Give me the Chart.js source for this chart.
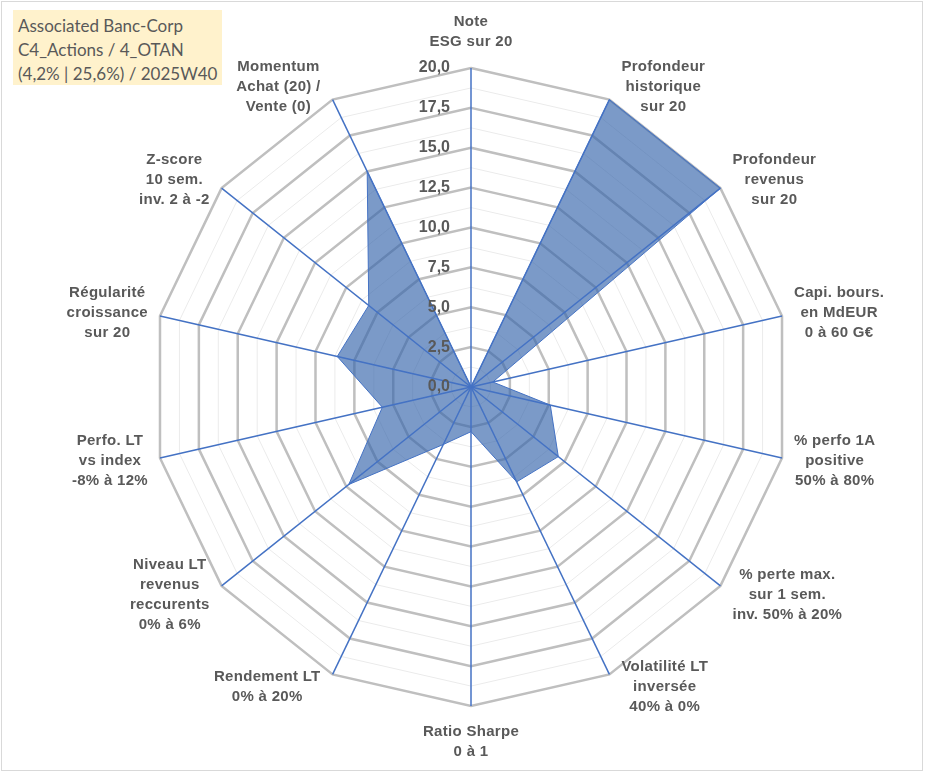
<!DOCTYPE html>
<html>
<head>
<meta charset="utf-8">
<script src="https://cdn.jsdelivr.net/npm/chart.js@4.4.1/dist/chart.umd.min.js"></script>
<style>
  body { margin: 0; background: #fff; }
  #wrap { position: relative; width: 933px; height: 776px; }
  #frame { position: absolute; left: 1px; top: 1px; width: 920px; height: 768px; border: 1px solid #d9d9d9; pointer-events: none; }
  #note { position: absolute; left: 13px; top: 10px; width: 204px; height: 71px; padding: 4px 0 0 5px;
          background: #fff2cc; color: #595959; font: 17px Lato, "Open Sans", sans-serif; line-height: 24px; }
</style>
</head>
<body>
<div id="wrap">
  <canvas id="radar"></canvas>
  <div id="frame"></div>
  <div id="note">Associated Banc-Corp<br>C4_Actions / 4_OTAN<br>(4,2% | 25,6%) / 2025W40</div>
</div>
<script>
const axes = [
  ['Note', 'ESG sur 20'],
  ['Profondeur', 'historique', 'sur 20'],
  ['Profondeur', 'revenus', 'sur 20'],
  ['Capi. bours.', 'en MdEUR', '0 à 60 G€'],
  ['% perfo 1A', 'positive', '50% à 80%'],
  ['% perte max.', 'sur 1 sem.', 'inv. 50% à 20%'],
  ['Volatilité LT', 'inversée', '40% à 0%'],
  ['Ratio Sharpe', '0 à 1'],
  ['Rendement LT', '0% à 20%'],
  ['Niveau LT', 'revenus', 'reccurents', '0% à 6%'],
  ['Perfo. LT', 'vs index', '-8% à 12%'],
  ['Régularité', 'croissance', 'sur 20'],
  ['Z-score', '10 sem.', 'inv. 2 à -2'],
  ['Momentum', 'Achat (20) /', 'Vente (0)']
];
const scores = [0, 20, 20, 1.4, 5.1, 7.0, 6.6, 2.8, 4.0, 9.8, 5.7, 8.6, 8.2, 15];
const tickValues = [0, 2.5, 5, 7.5, 10, 12.5, 15, 17.5, 20];
const tickLabels = ['0,0', '2,5', '5,0', '7,5', '10,0', '12,5', '15,0', '17,5', '20,0'];

const labelFont = 'bold 15px "Liberation Sans", Arial, sans-serif';

// rayons bleus au-dessus de la surface + graduations à gauche de l'axe vertical
const overlay = {
  id: 'overlay',
  afterDatasetsDraw(chart) {
    const s = chart.scales.r;
    const c = chart.ctx;
    c.save();
    c.strokeStyle = '#4472c4';
    c.lineWidth = 1.5;
    for (let i = 0; i < axes.length; i++) {
      const p = s.getPointPositionForValue(i, s.max);
      c.beginPath();
      c.moveTo(s.xCenter, s.yCenter);
      c.lineTo(p.x, p.y);
      c.stroke();
    }
    c.fillStyle = '#595959';
    c.font = 'bold 16px "Liberation Sans", Arial, sans-serif';
    c.textAlign = 'right';
    c.textBaseline = 'middle';
    tickValues.forEach((v, i) => {
      c.fillText(tickLabels[i], s.xCenter - 21, s.yCenter - s.getDistanceFromCenterForValue(v));
    });
    c.restore();
  },
  afterDraw(chart) {
    // libellés centrés à côté de chaque sommet, façon Excel
    const s = chart.scales.r;
    const c = chart.ctx;
    const n = axes.length;
    const lh = 20;
    c.save();
    c.fillStyle = '#595959';
    c.font = labelFont;
    c.letterSpacing = '0.3px';
    c.textAlign = 'center';
    c.textBaseline = 'middle';
    axes.forEach((lines, i) => {
      const v = s.getPointPosition(i, s.drawingArea);
      const a = i * 2 * Math.PI / n;
      const sin = Math.sin(a), cos = Math.cos(a);
      const h = lines.length * lh;
      let x, y;
      if (Math.abs(sin) < 0.01) {
        x = v.x;
        y = v.y - Math.sign(cos) * (16 + h / 2);
      } else {
        const w = Math.max(...lines.map(t => c.measureText(t).width));
        x = v.x + Math.sign(sin) * (12 + w / 2);
        y = v.y - cos * 14;
      }
      lines.forEach((t, k) => {
        c.fillText(t, x, y + (k - (lines.length - 1) / 2) * lh);
      });
    });
    c.restore();
  }
};

new Chart(document.getElementById('radar'), {
  type: 'radar',
  data: {
    labels: axes,
    datasets: [{
      data: scores,
      backgroundColor: 'rgba(52, 100, 170, 0.65)',
      borderColor: '#4472c4',
      borderWidth: 1,
      pointRadius: 0,
      fill: true
    }]
  },
  options: {
    responsive: true,
    maintainAspectRatio: false,
    animation: false,
    layout: { padding: { top: 23, bottom: 23, left: 10, right: 0 } },
    plugins: { legend: { display: false }, tooltip: { enabled: false } },
    scales: {
      r: {
        min: 0,
        max: 20,
        ticks: { stepSize: 1.25, display: false },
        grid: {
          circular: false,
          color: ctx => (ctx.tick.value % 2.5 === 0 ? '#bfbfbf' : '#ebebeb'),
          lineWidth: ctx => (ctx.tick.value % 2.5 === 0 ? 2.5 : 1)
        },
        angleLines: { display: false },
        pointLabels: {
          color: 'rgba(0,0,0,0)',
          padding: 6,
          font: { family: '"Liberation Sans", Arial, sans-serif', size: 15, weight: 'bold', lineHeight: 1.333 }
        }
      }
    }
  },
  plugins: [overlay]
});
</script>
</body>
</html>
